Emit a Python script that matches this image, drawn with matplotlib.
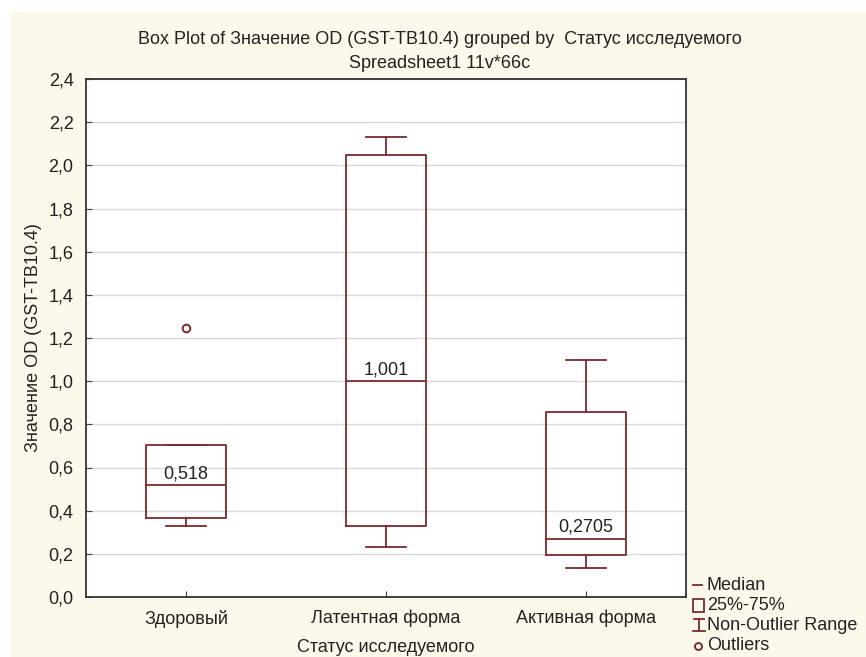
import matplotlib
matplotlib.use("Agg")
import matplotlib.pyplot as plt
from matplotlib.patches import Rectangle
from matplotlib.lines import Line2D

plt.rcParams['font.family'] = ['Liberation Sans', 'DejaVu Sans']

groups = ["Здоровый", "Латентная форма", "Активная форма"]
medians = [0.518, 1.001, 0.2705]
q1 = [0.367, 0.33, 0.195]
q3 = [0.705, 2.05, 0.855]
whisker_lo = [0.33, 0.232, 0.135]
whisker_hi = [0.705, 2.13, 1.10]
outliers = [[1.245], [], []]
median_labels = ["0,518", "1,001", "0,2705"]

ytick_vals = [0.0, 0.2, 0.4, 0.6, 0.8, 1.0, 1.2, 1.4, 1.6, 1.8, 2.0, 2.2, 2.4]

W, H = 866, 657
box_col = "#7b2a2e"
txt_col = "#222222"
fs = 13

fig = plt.figure(figsize=(W / 100, H / 100), dpi=100, facecolor="white")
# cream panel behind everything
fig.patches.append(Rectangle((10 / W, 0), 1 - 10 / W, 1 - 12 / H, transform=fig.transFigure,
                             facecolor="#fcf8ec", edgecolor="none", zorder=-10))

ax = fig.add_axes([86 / W, 1 - 597 / H, 600 / W, 518 / H])
ax.set_facecolor("white")

stats = []
for i in range(len(groups)):
    stats.append({"med": medians[i], "q1": q1[i], "q3": q3[i],
                  "whislo": whisker_lo[i], "whishi": whisker_hi[i],
                  "fliers": outliers[i], "label": groups[i]})

lp = dict(color=box_col, linewidth=1.3)
ax.bxp(stats, positions=[1, 2, 3], widths=0.4, showfliers=True,
       boxprops=lp, whiskerprops=lp, capprops=lp, medianprops=lp,
       flierprops=dict(marker="o", markersize=5.5, markerfacecolor="white",
                       markeredgecolor=box_col, markeredgewidth=1.4),
       capwidths=0.2, zorder=3)

for i, lab in enumerate(median_labels):
    ax.annotate(lab, (i + 1, medians[i]), xytext=(0, 2), textcoords="offset points",
                ha="center", va="bottom", fontsize=fs, color=txt_col, zorder=4)

ax.set_xlim(0.5, 3.5)
ax.set_ylim(0, 2.4)
ax.set_yticks(ytick_vals)
ax.set_yticklabels([f"{v:.1f}".replace(".", ",") for v in ytick_vals])
ax.set_xticks([1, 2, 3])
ax.set_xticklabels(groups)
ax.tick_params(direction="in", length=4, color="#444444", labelsize=fs,
               labelcolor=txt_col)
ax.tick_params(axis="y", pad=9)
ax.tick_params(axis="x", pad=9)
ax.grid(axis="y", color="#d9d9d9", linewidth=1)
ax.set_axisbelow(True)
for s in ax.spines.values():
    s.set_color("#333333")
    s.set_linewidth(1.3)

ax.set_xlabel("Статус исследуемого", fontsize=fs, color=txt_col, labelpad=8)
ax.set_ylabel("Значение OD (GST-TB10.4)", fontsize=fs, color=txt_col)
ax.yaxis.set_label_coords(-44 / 600, 0.5)

title_x = 440 / W
fig.text(title_x, 1 - 40 / H,
         "Box Plot of Значение OD (GST-TB10.4) grouped by  Статус исследуемого",
         ha="center", va="center", fontsize=fs, color=txt_col)
fig.text(title_x, 1 - 63 / H, "Spreadsheet1 11v*66c",
         ha="center", va="center", fontsize=fs, color=txt_col)

# legend drawn in figure pixel space
def px(x, y):
    return x / W, 1 - y / H

tf = fig.transFigure
fig.lines.append(Line2D(*zip(px(693, 585), px(702, 585)), transform=tf, color=box_col, lw=1.3))
fig.patches.append(Rectangle(px(693, 612), 11 / W, 13 / H, transform=tf,
                             facecolor="none", edgecolor=box_col, lw=1.3))
fig.lines.append(Line2D(*zip(px(699, 619), px(699, 631)), transform=tf, color=box_col, lw=1.3))
fig.lines.append(Line2D(*zip(px(694, 619), px(704, 619)), transform=tf, color=box_col, lw=1.3))
fig.lines.append(Line2D(*zip(px(693, 631), px(705, 631)), transform=tf, color=box_col, lw=1.3))
fig.lines.append(Line2D([698 / W], [1 - 646 / H], transform=tf, marker="o", markersize=5,
                        markerfacecolor="white", markeredgecolor=box_col, markeredgewidth=1.4))
for y, t in [(585, "Median"), (605, "25%-75%"), (625, "Non-Outlier Range"), (646, "Outliers")]:
    fig.text(707 / W, 1 - y / H, t, ha="left", va="center", fontsize=fs, color=txt_col)

fig.savefig("out.png", dpi=100, facecolor=fig.get_facecolor())
